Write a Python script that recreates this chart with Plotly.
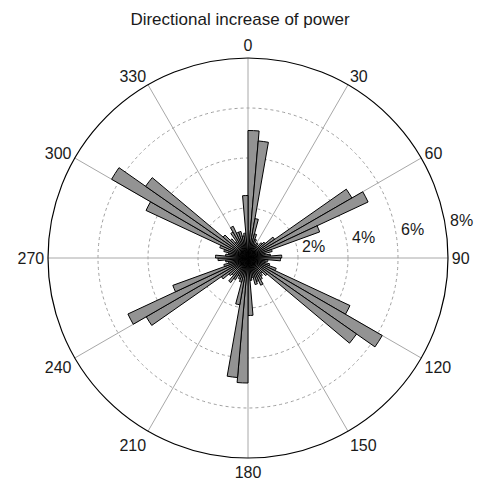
import math
import plotly.graph_objects as go

# 5-degree direction bins (start angle of each bin, degrees clockwise from north)
bin_start = list(range(0, 360, 5))
# percentage of power increase per bin
values = [
    5.1, 4.7, 1.6, 1.0, 0.8, 0.6, 0.7, 0.6, 0.8, 0.9, 1.3, 4.8,   # 0-55
    5.3, 3.05, 1.0, 0.7, 0.9, 1.35, 1.3, 0.8, 0.7, 0.9, 1.2, 4.5,  # 60-115
    6.2, 5.3, 1.0, 0.8, 0.9, 1.0, 1.2, 1.0, 1.1, 0.8, 0.9, 2.3,    # 120-175
    5.0, 4.8, 1.9, 1.0, 0.9, 0.8, 1.0, 1.2, 0.9, 1.0, 1.3, 4.7,    # 180-235
    5.3, 3.2, 1.0, 0.8, 0.9, 1.2, 1.3, 0.9, 0.8, 1.0, 1.2, 4.5,    # 240-295
    6.3, 5.0, 1.3, 1.0, 0.8, 1.2, 1.4, 1.1, 1.1, 0.9, 1.0, 2.5,    # 300-355
]
bin_width = 5
angle_ticks = list(range(0, 360, 30))
angle_labels = [str(a) for a in angle_ticks]
radial_ticks = [2, 4, 6, 8]
radial_labels = [f"{t}%" for t in radial_ticks]
radial_max = 8
title_text = "Directional increase of power"

centers = [s + bin_width / 2 for s in bin_start]

W, H = 480, 484
ML, MR, MT, MB = 48, 32, 58, 26
plot_w = W - ML - MR
plot_h = H - MT - MB
radius_px = min(plot_w, plot_h) / 2

fig = go.Figure()
fig.add_trace(go.Barpolar(
    r=values,
    theta=centers,
    width=[bin_width] * len(values),
    marker=dict(color="#939393", line=dict(color="#000000", width=1)),
    hoverinfo="skip",
))

# radial tick labels placed along the 80-degree direction, just outside each ring
label_dir = 80
annotations = []
for t, txt in zip(radial_ticks, radial_labels):
    rp = t / radial_max * radius_px + 17
    ax = math.radians(label_dir)
    annotations.append(dict(
        text=txt, xref="paper", yref="paper",
        x=0.5 + rp * math.sin(ax) / plot_w,
        y=0.5 + rp * math.cos(ax) / plot_h,
        xanchor="center", yanchor="middle", showarrow=False,
        font=dict(family="Liberation Sans, Arial, sans-serif", size=16, color="#1a1a1a"),
    ))

fig.update_layout(
    width=W, height=H,
    margin=dict(l=ML, r=MR, t=MT, b=MB),
    paper_bgcolor="white",
    showlegend=False,
    font=dict(family="Liberation Sans, Arial, sans-serif", size=16, color="#1a1a1a"),
    title=dict(text=title_text, x=0.5, xanchor="center", y=1 - 19 / H, yanchor="middle",
               font=dict(size=17, color="#1a1a1a")),
    annotations=annotations,
    polar=dict(
        bgcolor="white",
        domain=dict(x=[0, 1], y=[0, 1]),
        angularaxis=dict(
            direction="clockwise", rotation=90,
            tickmode="array", tickvals=angle_ticks, ticktext=angle_labels,
            showline=True, linecolor="#000000", linewidth=1.2,
            showgrid=True, gridcolor="#a8a8a8", gridwidth=1,
            ticks="", tickfont=dict(size=16, color="#1a1a1a"),
        ),
        radialaxis=dict(
            range=[0, radial_max], tickmode="array", tickvals=radial_ticks,
            showline=False, showticklabels=False, ticks="",
            showgrid=True, gridcolor="#a0a0a0", gridwidth=1, griddash="dot",
        ),
    ),
)

fig.write_html("out.html", config={"displayModeBar": False},
               post_script="document.body.style.margin='0';")
